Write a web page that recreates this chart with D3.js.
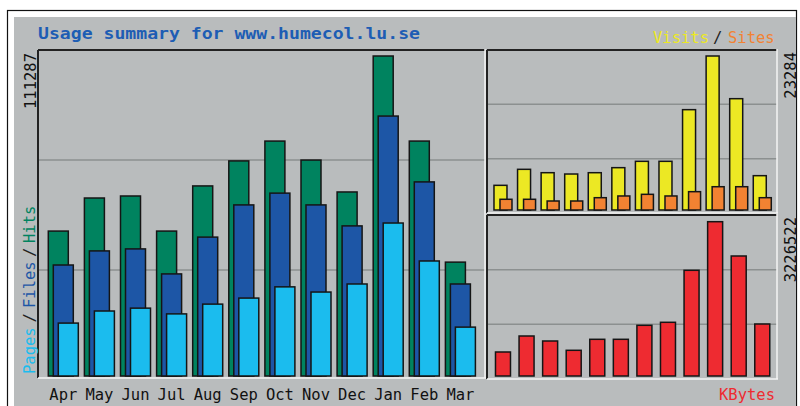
<!DOCTYPE html>
<html><head><meta charset="utf-8">
<script src="https://cdn.jsdelivr.net/npm/d3@7/dist/d3.min.js"></script>
<style>
body{margin:0;background:#fff}
svg{display:block}
text{font-family:"DejaVu Sans Mono","Liberation Mono",monospace}
</style>
</head><body>
<svg id="chart" width="800" height="406"></svg>
<script>
const months = ["Apr","May","Jun","Jul","Aug","Sep","Oct","Nov","Dec","Jan","Feb","Mar"];
const hits   = [50400, 61900, 62600, 50400, 66100, 74800, 81700, 75100, 64000, 111287, 81700, 39600];
const files  = [38600, 43500, 44200, 35500, 48300, 59500, 63600, 59500, 52200, 90400, 67500, 32000];
const pages  = [18400, 22600, 23600, 21600, 25000, 27100, 31000, 29200, 32000, 53200, 40000, 17000];
const visits = [3730, 6150, 5640, 5440, 5640, 6400, 7360, 7360, 15170, 23284, 16830, 5190];
const sites  = [1620, 1620, 1360, 1360, 1860, 2120, 2370, 2120, 2770, 3520, 3520, 1860];
const kbytes = [501900, 836400, 731900, 537400, 767400, 767400, 1060200, 1122900, 2210300, 3226522, 2509300, 1087400];
const maxLabels = ["111287", "23284", "3226522"];
const title = "Usage summary for www.humecol.lu.se";

const C = {
  bg: "#b9bcbd", hits: "#00835f", files: "#1d56a6", pages: "#1bbcee",
  visits: "#ece824", sites: "#f28232", kbytes: "#ee2b31", title: "#1d5db4",
  grid: "#8c9090", dark: "#222", light: "#f4f4f4"
};

const svg = d3.select("#chart");
svg.append("rect").attr("width",800).attr("height",406).attr("fill","#fff");
svg.append("rect").attr("x",7.5).attr("y",10.5).attr("width",789).attr("height",420)
   .attr("fill","#fff").attr("stroke","#111").attr("stroke-width",1.2);
svg.append("rect").attr("x",14).attr("y",17).attr("width",782).attr("height",400).attr("fill",C.bg);

// Panels
const P = {
  main: {l:38, t:50, r:485, b:378},
  vis:  {l:487, t:50, r:777, b:213},
  kb:   {l:487, t:215, r:777, b:379}
};

function grid(p, ys){
  svg.append("g").selectAll("line").data(ys).join("line")
    .attr("x1", p.l).attr("x2", p.r).attr("y1", d=>d).attr("y2", d=>d)
    .attr("stroke", C.grid).attr("stroke-width", 1.5);
}
function frame(p){
  const g = svg.append("g");
  g.append("line").attr("x1",p.l).attr("x2",p.r).attr("y1",p.t).attr("y2",p.t).attr("stroke",C.dark).attr("stroke-width",2);
  g.append("line").attr("x1",p.l).attr("x2",p.l).attr("y1",p.t).attr("y2",p.b).attr("stroke",C.dark).attr("stroke-width",2);
  g.append("line").attr("x1",p.l).attr("x2",p.r+1).attr("y1",p.b).attr("y2",p.b).attr("stroke",C.light).attr("stroke-width",1.5);
  g.append("line").attr("x1",p.r).attr("x2",p.r).attr("y1",p.t-1).attr("y2",p.b).attr("stroke",C.light).attr("stroke-width",1.5);
}
function thirds(p){ const h=(p.b-p.t)/3; return [p.t+h, p.t+2*h]; }

grid(P.main, [160, 270]);
grid(P.vis, thirds(P.vis));
grid(P.kb, thirds(P.kb));

// Main chart scales
const x = d3.scaleBand().domain(months).range([45.25, 478.45]).paddingInner(0.169).paddingOuter(0.0845);
const y = d3.scaleLinear().domain([0, d3.max(hits)]).range([376, 56]);
const sub = d3.scalePoint().domain(["hits","files","pages"]).range([0, x.bandwidth()/3]);
const bw = x.bandwidth()*2/3;

const mainSeries = [["hits",hits,C.hits],["files",files,C.files],["pages",pages,C.pages]];
mainSeries.forEach(([k,vals,col])=>{
  svg.append("g").selectAll("rect").data(months).join("rect")
    .attr("x", (m)=>x(m)+sub(k)).attr("width", bw)
    .attr("y", (m,i)=>y(vals[i])).attr("height", (m,i)=>y(0)-y(vals[i]))
    .attr("fill", col).attr("stroke","#151515").attr("stroke-width",1.5);
});

// Right scales
const xr = d3.scaleBand().domain(months).range([491.2, 774.06]).paddingInner(0.236).paddingOuter(0.118);
const yv = d3.scaleLinear().domain([0, d3.max(visits)]).range([210, 56]);
const yk = d3.scaleLinear().domain([0, d3.max(kbytes)]).range([376, 221.7]);

svg.append("g").selectAll("rect").data(months).join("rect")
  .attr("x", m=>xr(m)).attr("width", 13)
  .attr("y",(m,i)=>yv(visits[i])).attr("height",(m,i)=>yv(0)-yv(visits[i]))
  .attr("fill",C.visits).attr("stroke","#151515").attr("stroke-width",1.5);
svg.append("g").selectAll("rect").data(months).join("rect")
  .attr("x", m=>xr(m)+xr.bandwidth()-12).attr("width", 12)
  .attr("y",(m,i)=>yv(sites[i])).attr("height",(m,i)=>yv(0)-yv(sites[i]))
  .attr("fill",C.sites).attr("stroke","#151515").attr("stroke-width",1.5);
svg.append("g").selectAll("rect").data(months).join("rect")
  .attr("x", m=>xr(m)+(xr.bandwidth()-15)/2).attr("width", 15)
  .attr("y",(m,i)=>yk(kbytes[i])).attr("height",(m,i)=>yk(0)-yk(kbytes[i]))
  .attr("fill",C.kbytes).attr("stroke","#151515").attr("stroke-width",1.5);

frame(P.main); frame(P.vis); frame(P.kb);

// Title
svg.append("text").attr("x",38).attr("y",39).attr("fill",C.title)
  .attr("font-size",16).attr("font-weight","bold")
  .attr("textLength",382).attr("lengthAdjust","spacingAndGlyphs").text(title);

// Month labels
svg.append("g").selectAll("text").data(months).join("text")
  .attr("x", m=>x(m)+x.bandwidth()/2).attr("y",400).attr("text-anchor","middle")
  .attr("font-size",15.5).attr("fill","#111").text(d=>d);

// Visits / Sites legend
const lg = svg.append("g").attr("font-size",15.5);
lg.append("text").attr("x",653).attr("y",43).attr("fill",C.visits).text("Visits");
lg.append("text").attr("x",713).attr("y",43).attr("fill","#222").text("/");
lg.append("text").attr("x",728).attr("y",43).attr("fill",C.sites).text("Sites");

// KBytes
svg.append("text").attr("x",775).attr("y",400).attr("text-anchor","end")
  .attr("font-size",15.5).attr("fill",C.kbytes).text("KBytes");

// Left rotated legend
const ll = svg.append("g").attr("transform","translate(35,374) rotate(-90)").attr("font-size",15.5);
ll.append("text").attr("x",0).attr("fill",C.pages).text("Pages");
ll.append("text").attr("x",51.5).attr("fill","#222").text("/");
ll.append("text").attr("x",66).attr("fill",C.files).text("Files");
ll.append("text").attr("x",117).attr("fill","#222").text("/");
ll.append("text").attr("x",131).attr("fill",C.hits).text("Hits");

// Max labels
function vlabel(xb, yend, t){
  svg.append("text").attr("transform",`translate(${xb},${yend}) rotate(-90)`)
    .attr("text-anchor","end").attr("font-size",15.5).attr("fill","#111").text(t);
}
vlabel(36, 53, maxLabels[0]);
vlabel(796, 52, maxLabels[1]);
vlabel(796, 217, maxLabels[2]);
</script>
</body></html>
